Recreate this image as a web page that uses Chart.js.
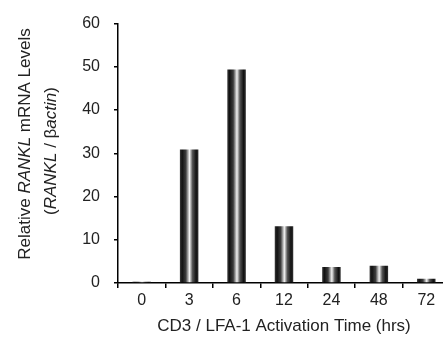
<!DOCTYPE html>
<html lang="en">
<head>
    <meta charset="UTF-8">
    <title>RANKL mRNA Levels</title>
    <script src="https://cdn.jsdelivr.net/npm/chart.js"></script>
    <style>
        html, body { margin: 0; padding: 0; background: #fff; overflow: hidden; }
    </style>
</head>
<body>
    <canvas id="rankChart" width="450" height="337"></canvas>

    <script>
        // values
        const timePoints = ["0", "3", "6", "12", "24", "48", "72"];
        const rankLevels = [0.3, 30.9, 49.4, 13.1, 3.7, 4.0, 1.0];
        const yTicks = [0, 10, 20, 30, 40, 50, 60];

        const FONT = "'Liberation Sans', Arial, sans-serif";
        const TEXT = "#222";
        const BAR_PCT = 0.39;

        // cylinder-style shading, built from the x scale position of each bar
        function barShade(c) {
            const chart = c.chart;
            const xs = chart.scales.x;
            if (!xs || !chart.chartArea || c.dataIndex === undefined) return "#333";
            const step = xs.width / timePoints.length;
            const w = step * BAR_PCT;
            const left = xs.getPixelForValue(c.dataIndex) - w / 2;
            const g = chart.ctx.createLinearGradient(left, 0, left + w, 0);
            g.addColorStop(0, "#3a3a3a");
            g.addColorStop(0.12, "#111");
            g.addColorStop(0.32, "#3c3c3c");
            g.addColorStop(0.52, "#f2f2f2");
            g.addColorStop(0.68, "#555");
            g.addColorStop(0.88, "#111");
            g.addColorStop(1, "#333");
            return g;
        }

        // y title with italic parts, drawn by hand
        function drawMixed(ctx, parts, cx, cy) {
            let total = 0;
            parts.forEach((p) => {
                ctx.font = (p.italic ? "italic " : "") + "17px " + FONT;
                p.w = ctx.measureText(p.text).width;
                total += p.w;
            });
            ctx.save();
            ctx.translate(cx, cy);
            ctx.rotate(-Math.PI / 2);
            ctx.fillStyle = TEXT;
            ctx.textBaseline = "middle";
            ctx.textAlign = "left";
            let x = -total / 2;
            parts.forEach((p) => {
                ctx.font = (p.italic ? "italic " : "") + "17px " + FONT;
                ctx.fillText(p.text, x, 0);
                x += p.w;
            });
            ctx.restore();
        }

        const yTitle = {
            id: "yTitle",
            afterDraw(chart) {
                const ctx = chart.ctx;
                drawMixed(ctx, [
                    { text: "Relative " },
                    { text: "RANKL", italic: true },
                    { text: " mRNA Levels" }
                ], 25, 144);
                drawMixed(ctx, [
                    { text: "(" },
                    { text: "RANKL", italic: true },
                    { text: " / \u03b2" },
                    { text: "actin", italic: true },
                    { text: ")" }
                ], 51, 151);
            }
        };

        new Chart(document.getElementById("rankChart"), {
            type: "bar",
            data: {
                labels: timePoints,
                datasets: [{
                    data: rankLevels,
                    backgroundColor: barShade,
                    borderWidth: 0,
                    barPercentage: BAR_PCT,
                    categoryPercentage: 1.0
                }]
            },
            options: {
                responsive: false,
                animation: false,
                layout: { padding: { top: 20, right: 0, left: 0, bottom: 0 } },
                plugins: {
                    legend: { display: false },
                    tooltip: { enabled: false }
                },
                scales: {
                    x: {
                        grid: { drawOnChartArea: false, drawTicks: true, tickLength: 5, color: "#000", lineWidth: 1.5 },
                        border: { display: true, color: "#000", width: 1.5 },
                        ticks: { color: TEXT, font: { family: FONT, size: 16 }, padding: 3 },
                        title: {
                            display: true,
                            text: "CD3 / LFA-1 Activation Time (hrs)",
                            color: TEXT,
                            font: { family: FONT, size: 17 },
                            padding: { top: 8, bottom: 0 }
                        },
                        afterFit(scale) { scale.height = 54; }
                    },
                    y: {
                        min: 0,
                        max: 60,
                        afterBuildTicks(scale) { scale.ticks = yTicks.map((v) => ({ value: v })); },
                        grid: { drawOnChartArea: false, drawTicks: true, tickLength: 4, color: "#000", lineWidth: 1.5 },
                        border: { display: true, color: "#000", width: 1.5 },
                        ticks: { color: TEXT, font: { family: FONT, size: 16 }, padding: 14 },
                        afterFit(scale) { scale.width = 118; }
                    }
                }
            },
            plugins: [yTitle]
        });
    </script>
</body>
</html>
